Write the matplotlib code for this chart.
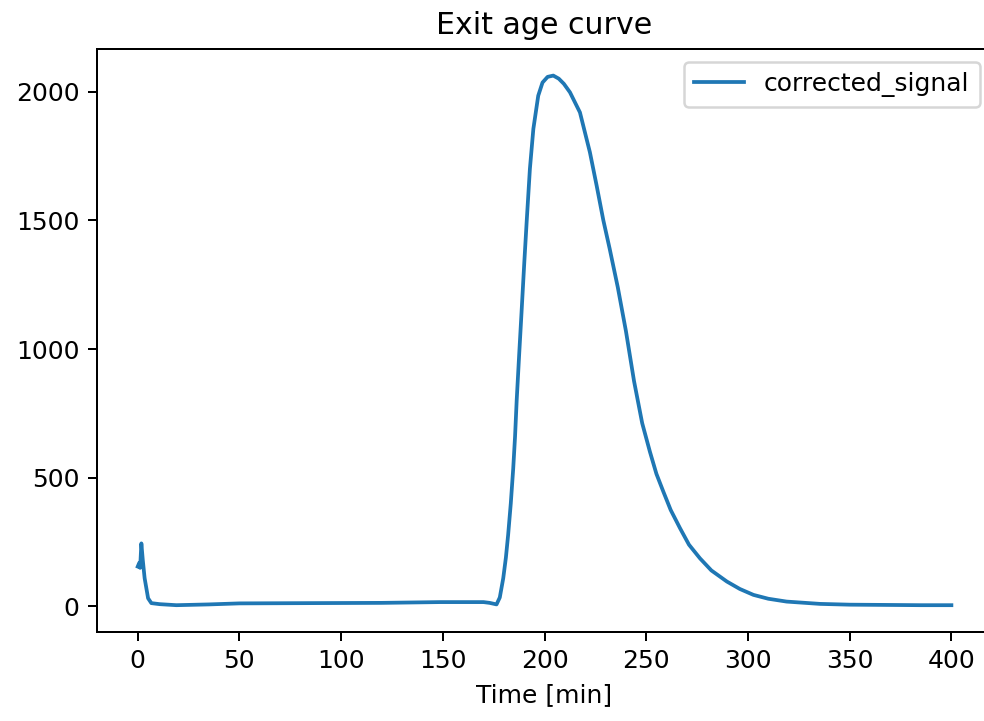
import matplotlib
matplotlib.use("Agg")
import matplotlib.pyplot as plt

# Data
time_min = [0, 0.8, 1.2, 1.8, 2.5, 3.4, 5.1, 6.7, 10.8, 19, 35, 50, 84, 120,
            148.5, 165, 170, 173, 176.4, 178, 179.7, 181, 182.1, 183.4, 184.6,
            185.5, 186.3, 187.5, 188.7, 190, 191.2, 192.8, 194.5, 196.9, 199,
            201.5, 204.3, 207, 209.5, 212.5, 217.4, 222.3, 225.6, 228.9, 232,
            236, 240, 244, 248, 251.8, 255, 258.4, 262, 266.6, 271,
            276.4, 282, 289.6, 296, 302.7, 310, 319, 335.5, 350, 368, 385, 400]
corrected_signal = [155, 170, 150, 245, 180, 110, 32, 13, 9, 5, 8, 12, 13, 14,
                    17, 17, 17, 14, 8, 35, 110, 190, 278, 400, 536,
                    660, 800, 975, 1144, 1330, 1493, 1700, 1855, 1984, 2035,
                    2057, 2062, 2050, 2030, 1997, 1919, 1764, 1635, 1500, 1390,
                    1240, 1070, 875, 712, 601, 515, 446, 375, 304, 240,
                    187, 140, 97, 68, 45, 30, 19, 10, 7, 6, 5, 5]

DPI = 180
fig = plt.figure(figsize=(984 / DPI, 721 / DPI), dpi=DPI)
ax = fig.add_axes([0.0986, 0.1239, 0.9096, 0.808])
ax.plot(time_min, corrected_signal, color="#1f77b4", label="corrected_signal")
ax.set_title("Exit age curve")
ax.set_xlabel("Time [min]")
ax.set_xticks([0, 50, 100, 150, 200, 250, 300, 350, 400])
ax.set_yticks([0, 500, 1000, 1500, 2000])
ax.legend(loc="upper right")
fig.savefig("out.png", dpi=DPI)
